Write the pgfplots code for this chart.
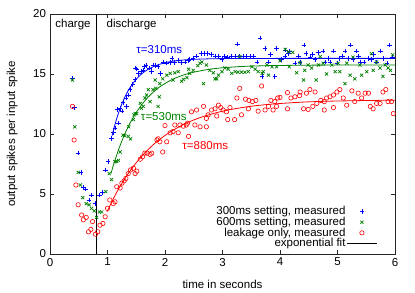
\documentclass[border=0pt]{standalone}
\usepackage{pgfplots}
\pgfplotsset{compat=1.18}
\usepackage{fontspec}
\setmainfont{Liberation Sans}
\definecolor{cblue}{rgb}{0,0,1}
\definecolor{cgreen}{rgb}{0,0.5,0}
\definecolor{cred}{rgb}{1,0,0}
\begin{document}
\fontsize{11.5}{13.8}\selectfont
\begin{tikzpicture}
\path (-50pt,-37pt) rectangle (365pt,254pt);
\begin{axis}[
  scale only axis, width=345pt, height=240pt,
  xmin=0, xmax=6, ymin=0, ymax=20,
  xtick={0,1,2,3,4,5,6}, ytick={0,5,10,15,20},
  /pgf/number format/assume math mode=true,
  axis line style={line width=0.6pt, black!85},
  tick style={black!85, line width=0.5pt},
  xlabel={time in seconds}, ylabel={output spikes per input spike},
  xlabel style={at={(axis description cs:0.5,-0.125)}, anchor=center},
  ylabel style={at={(axis description cs:-0.11,0.5)}, anchor=center},
  legend cell align=right, legend plot pos=right,
  legend style={at={(axis description cs:0.958,0.01)}, anchor=south east, draw=none, fill=none,
    row sep=-1.5pt, nodes={inner sep=1pt}},
  legend image code/.code={\draw[mark repeat=2,mark phase=2,#1] plot coordinates {(0pt,0pt) (15pt,0pt) (30pt,0pt)};},
]
% measured 300ms setting
\addplot[only marks, mark=+, mark size=2.3pt, cblue, mark options={line width=0.7pt}] coordinates {
(0.39,14.6)(0.43,12.2)(0.49,8.4)(0.54,6.8)(0.58,5.55)(0.62,5.4)(0.68,4.5)(0.72,4.9)(0.78,4.2)
(0.86,4.9)(0.91,5.1)(0.96,7.0)(1.01,7.7)(1.07,9.6)(1.10,10.1)(1.13,10.5)(1.17,12.05)(1.19,10.9)
(1.22,12.1)(1.25,11.9)(1.27,12.6)(1.32,13.0)(1.33,12.3)(1.36,13.25)(1.39,13.7)(1.44,14.1)(1.48,14.55)
(1.49,15.5)(1.51,15.4)(1.54,15.05)(1.58,15.2)(1.62,15.3)(1.64,15.6)(1.67,15.7)(1.73,15.5)(1.77,15.2)
(1.79,15.75)(1.83,15.7)(1.88,15.6)(1.92,15.05)(1.97,16.0)(2.03,15.9)(2.09,15.95)(2.12,16.3)(2.17,15.95)
(2.23,16.1)(2.29,15.95)(2.35,16.0)(2.41,16.1)(2.43,16.2)(2.49,16.3)(2.55,16.5)(2.63,16.7)(2.68,16.7)
(2.74,16.7)(2.81,16.6)(2.87,16.5)(2.93,16.5)(2.99,16.2)(3.03,16.5)(3.09,16.4)(3.15,16.5)(3.22,16.45)
(3.26,17.5)(3.30,16.45)(3.36,16.5)(3.42,16.5)(3.48,16.45)(3.54,16.5)(3.60,16.0)(3.65,18.0)(3.69,14.8)
(3.74,17.1)(3.80,16.0)(3.83,16.6)(3.91,14.8)(3.94,17.1)(4.03,16.2)(4.09,16.45)(4.10,17.0)(4.15,16.7)
(4.17,16.9)(4.26,15.9)(4.32,16.5)(4.35,15.95)(4.42,17.4)(4.45,16.7)(4.52,16.4)(4.57,16.6)(4.61,16.2)
(4.67,16.8)(4.75,16.9)(4.78,16.0)(4.84,16.3)(4.87,16.0)(4.93,16.9)(4.99,15.9)(5.04,16.3)(5.09,16.5)
(5.13,16.9)(5.19,16.3)(5.23,17.4)(5.27,16.2)(5.33,16.9)(5.36,16.5)(5.39,16.0)(5.46,16.0)(5.54,16.3)
(5.59,16.2)(5.63,16.6)(5.68,16.0)(5.75,16.9)(5.80,16.3)(5.86,15.9)(5.90,17.4)(5.96,16.4)
};
\addlegendentry{300ms setting, measured}
% measured 600ms setting
\addplot[only marks, mark=x, mark size=2.2pt, cgreen, mark options={line width=0.7pt}] coordinates {
(0.39,14.5)(0.43,10.6)(0.49,6.8)(0.53,5.75)(0.57,4.7)(0.63,4.2)(0.68,4.1)(0.72,3.8)(0.77,3.6)
(0.81,3.05)(0.86,3.5)(0.90,3.5)(0.97,5.2)(1.03,6.7)(1.07,6.2)(1.13,7.7)(1.16,7.7)(1.19,7.8)
(1.22,8.5)(1.27,9.9)(1.30,9.86)(1.36,9.8)(1.37,10.6)(1.40,9.6)(1.45,11.2)(1.46,11.6)(1.48,11.7)
(1.51,11.7)(1.57,12.55)(1.59,12.15)(1.62,12.3)(1.65,13.0)(1.68,13.25)(1.71,13.7)(1.74,12.7)(1.79,13.7)
(1.83,14.5)(1.84,13.8)(1.88,12.3)(1.90,13.1)(1.91,14.2)(1.96,14.6)(2.03,14.9)(2.09,15.05)(2.14,14.5)
(2.17,15.1)(2.23,15.2)(2.29,14.4)(2.32,14.55)(2.38,14.7)(2.41,15.4)(2.43,15.05)(2.49,15.3)(2.57,15.7)
(2.61,15.9)(2.64,16.0)(2.67,14.2)(2.72,15.75)(2.78,15.3)(2.84,15.1)(2.87,14.6)(2.90,14.6)(2.93,14.9)
(2.99,15.2)(3.04,15.5)(3.10,15.4)(3.16,15.05)(3.22,15.2)(3.27,15.15)(3.30,16.45)(3.33,15.15)(3.39,15.15)
(3.45,15.2)(3.51,15.6)(3.57,15.4)(3.62,15.2)(3.69,15.05)(3.71,15.2)(3.77,15.75)(3.80,14.9)(3.86,15.6)
(3.94,15.6)(4.00,16.1)(4.09,17.05)(4.15,16.85)(4.22,16.8)(4.16,15.6)(4.29,15.1)(4.35,15.95)(4.41,14.5)
(4.43,15.3)(4.49,15.75)(4.55,15.5)(4.63,14.5)(4.67,15.75)(4.70,16.45)(4.75,15.9)(4.81,15.0)(4.90,15.75)
(4.96,15.2)(5.01,15.9)(5.04,15.2)(5.13,14.2)(5.16,15.9)(5.22,14.9)(5.27,16.4)(5.30,14.6)(5.39,15.75)
(5.42,14.9)(5.51,15.2)(5.59,16.7)(5.62,15.3)(5.68,16.0)(5.74,15.5)(5.79,14.8)(5.83,15.75)(5.88,15.5)
(5.92,15.3)(5.96,16.6)
};
\addlegendentry{600ms setting, measured}
% leakage only
\addplot[only marks, mark=o, mark size=2.2pt, cred, mark options={line width=0.6pt}] coordinates {
(0.39,12.3)(0.42,9.5)(0.45,5.75)(0.49,4.1)(0.55,3.25)(0.58,2.85)(0.63,3.05)(0.74,2.7)(0.67,1.85)
(0.71,2.05)(0.79,1.65)(0.83,1.85)(0.87,2.4)(0.92,2.55)(0.96,3.1)(1.00,3.8)(1.04,4.5)(1.10,4.2)
(1.13,4.35)(1.16,5.6)(1.22,5.5)(1.25,5.9)(1.29,6.1)(1.32,6.3)(1.36,6.7)(1.40,7.0)(1.45,7.15)
(1.48,6.7)(1.51,6.9)(1.57,7.9)(1.61,8.1)(1.65,8.4)(1.69,8.4)(1.74,8.3)(1.77,8.4)(1.86,9.5)
(1.88,9.6)(1.91,9.35)(1.96,8.5)(2.00,10.7)(2.03,9.35)(2.09,10.1)(2.14,10.2)(2.17,10.75)(2.23,10.1)
(2.26,10.75)(2.32,10.65)(2.37,10.75)(2.39,10.9)(2.41,9.8)(2.46,11.85)(2.52,10.75)(2.55,12.0)(2.61,10.6)
(2.67,12.3)(2.72,10.6)(2.72,11.3)(2.75,11.6)(2.81,12.0)(2.87,12.1)(2.90,11.5)(2.93,12.4)(2.97,12.2)
(3.01,12.0)(3.07,11.85)(3.09,11.2)(3.13,12.2)(3.21,11.2)(3.25,13.0)(3.30,13.8)(3.33,11.6)(3.40,12.9)
(3.45,12.1)(3.46,12.8)(3.52,12.7)(3.58,12.8)(3.62,11.9)(3.68,14.0)(3.74,12.0)(3.80,12.3)(3.84,12.8)
(3.88,12.0)(3.91,12.7)(3.94,12.3)(3.96,13.0)(4.00,13.05)(4.13,13.45)(4.13,12.1)(4.19,13.0)(4.26,13.1)
(4.34,13.2)(4.35,13.5)(4.41,12.1)(4.46,13.4)(4.49,12.05)(4.52,13.7)(4.57,12.3)(4.61,13.5)(4.64,12.55)
(4.71,12.8)(4.77,12.7)(4.77,12.0)(4.81,13.0)(4.87,13.1)(4.93,13.25)(4.93,12.2)(4.99,13.5)(5.04,13.7)
(5.10,13.0)(5.16,12.4)(5.25,13.6)(5.30,12.7)(5.36,13.4)(5.42,13.0)(5.48,13.4)(5.54,13.4)(5.57,12.3)
(5.62,12.1)(5.68,12.55)(5.74,12.55)(5.79,13.5)(5.84,13.7)(5.88,12.7)(5.94,12.7)(5.97,11.7)
};
\addlegendentry{leakage only, measured}
% fits
\addplot[cblue, line width=0.8pt, forget plot] coordinates {
(1.08,9.86)(1.12,10.62)(1.16,11.28)(1.20,11.87)(1.25,12.51)(1.30,13.06)(1.35,13.53)(1.40,13.93)
(1.45,14.27)(1.50,14.57)(1.55,14.82)(1.60,15.03)(1.65,15.22)(1.70,15.37)(1.80,15.62)(1.90,15.80)
(2.00,15.94)(2.10,16.04)(2.20,16.11)(2.30,16.16)(2.40,16.20)(2.60,16.24)(2.80,16.27)(3.00,16.285)
(3.50,16.297)(4.0,16.3)(6.0,16.3)};
\addplot[cgreen, line width=0.8pt, forget plot] coordinates {
(1.06,6.70)(1.10,7.36)(1.15,8.11)(1.20,8.80)(1.25,9.42)(1.30,10.0)(1.35,10.51)(1.40,10.99)(1.50,11.80)
(1.60,12.48)(1.70,13.05)(1.80,13.51)(1.90,13.90)(2.00,14.21)(2.10,14.48)(2.20,14.70)(2.30,14.88)
(2.40,15.03)(2.50,15.15)(2.60,15.25)(2.70,15.34)(2.80,15.41)(2.90,15.47)(3.00,15.52)(3.15,15.57)
(3.30,15.62)(3.45,15.65)(3.60,15.67)(3.80,15.70)(4.00,15.71)(4.50,15.736)(5.00,15.745)(6.0,15.75)};
\addplot[cred, line width=0.8pt, forget plot] coordinates {
(0.99,3.50)(1.1,4.60)(1.2,5.49)(1.3,6.27)(1.4,6.98)(1.5,7.61)(1.6,8.17)(1.7,8.68)(1.8,9.13)
(1.9,9.52)(2.0,9.88)(2.1,10.20)(2.2,10.48)(2.3,10.74)(2.4,10.97)(2.5,11.17)(2.6,11.35)(2.7,11.51)
(2.8,11.65)(2.9,11.78)(3.0,11.90)(3.15,12.05)(3.3,12.17)(3.45,12.28)(3.6,12.37)(3.8,12.47)(4.0,12.54)
(4.25,12.62)(4.5,12.68)(4.75,12.72)(5.0,12.75)(5.25,12.77)(5.5,12.79)(6.0,12.82)};
\addplot[black, line width=0.8pt] coordinates {(-1,-1)};
\addlegendentry{exponential fit}
% separator
\addplot[black, line width=0.6pt, forget plot] coordinates {(0.8,0)(0.8,20)};
\node at (axis cs:0.4,19.1) {charge};
\node at (axis cs:1.42,19.1) {discharge};
\node[text=cblue] at (axis cs:1.90,17.0) {τ=310ms};
\node[text=cgreen] at (axis cs:1.98,11.45) {τ=530ms};
\node[text=cred] at (axis cs:2.70,9.0) {τ=880ms};
\end{axis}
\end{tikzpicture}
\end{document}
